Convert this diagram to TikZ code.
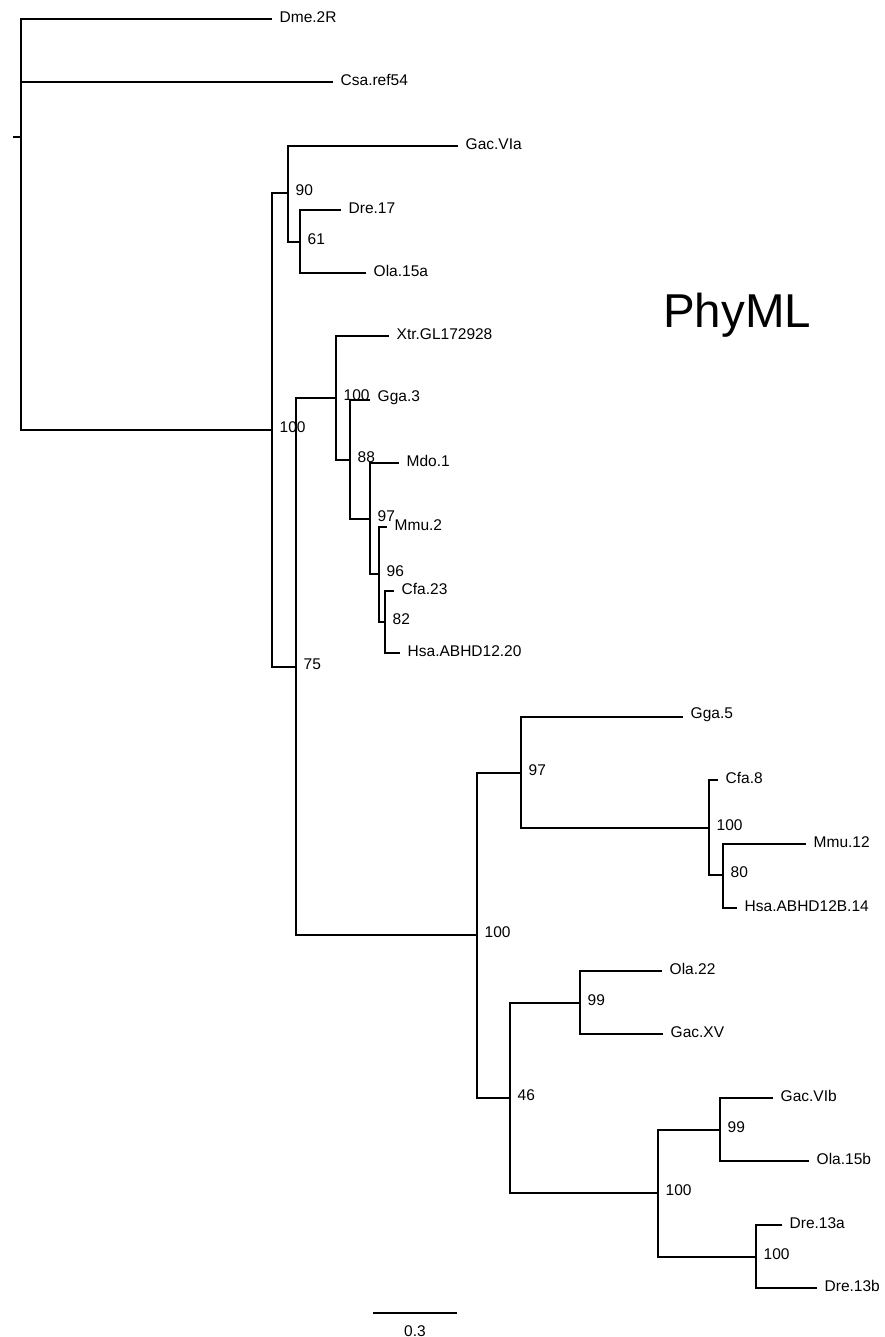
\documentclass[tikz,border=0pt]{standalone}
\usepackage{fontspec}
\setmainfont{Liberation Sans}
\begin{document}
\begin{tikzpicture}[x=1pt,y=-1pt,
  edge/.style={line width=1.3pt},
  leaf/.style={anchor=west,inner sep=0pt,xshift=7.5pt,yshift=2pt,font=\fontsize{15.5}{18}\selectfont},
  supp/.style={anchor=west,inner sep=0pt,xshift=7.5pt,yshift=2.5pt,font=\fontsize{15.5}{18}\selectfont}]
\useasboundingbox (0,0) rectangle (885,1337);
% internal nodes
\coordinate (root) at (21,137);
\coordinate (tick) at (13,137);
\coordinate (A) at (272,430);
\coordinate (B) at (288,193);
\coordinate (C) at (300,242);
\coordinate (D) at (296,667);
\coordinate (E) at (336,398);
\coordinate (F) at (350,460);
\coordinate (G) at (370,519);
\coordinate (H) at (379,574);
\coordinate (I) at (385,622);
\coordinate (J) at (477,935);
\coordinate (K) at (521,773);
\coordinate (L) at (709,828);
\coordinate (M) at (723,875);
\coordinate (N) at (510,1098);
\coordinate (O) at (580,1003);
\coordinate (P) at (658,1193);
\coordinate (Q) at (720,1130);
\coordinate (R) at (756,1257);
% leaves
\coordinate (Dme) at (272,19);
\coordinate (Csa) at (333,82);
\coordinate (GacVIa) at (458,146);
\coordinate (Dre17) at (341,210);
\coordinate (Ola15a) at (366,273);
\coordinate (Xtr) at (389,336);
\coordinate (Gga3) at (370,400);
\coordinate (Mdo1) at (399,463);
\coordinate (Mmu2) at (387,527);
\coordinate (Cfa23) at (394,591);
\coordinate (Hsa20) at (400,653);
\coordinate (Gga5) at (683,717);
\coordinate (Cfa8) at (718,780);
\coordinate (Mmu12) at (806,844);
\coordinate (Hsa14) at (737,908);
\coordinate (Ola22) at (662,971);
\coordinate (GacXV) at (663,1034);
\coordinate (GacVIb) at (773,1098);
\coordinate (Ola15b) at (809,1161);
\coordinate (Dre13a) at (782,1225);
\coordinate (Dre13b) at (817,1288);
% edges
\draw[edge] (tick) -- (root);
\draw[edge] (root) |- (Dme);
\draw[edge] (root) |- (Csa);
\draw[edge] (root) |- (A);
\draw[edge] (A) |- (B);
\draw[edge] (A) |- (D);
\draw[edge] (B) |- (GacVIa);
\draw[edge] (B) |- (C);
\draw[edge] (C) |- (Dre17);
\draw[edge] (C) |- (Ola15a);
\draw[edge] (D) |- (E);
\draw[edge] (D) |- (J);
\draw[edge] (E) |- (Xtr);
\draw[edge] (E) |- (F);
\draw[edge] (F) |- (Gga3);
\draw[edge] (F) |- (G);
\draw[edge] (G) |- (Mdo1);
\draw[edge] (G) |- (H);
\draw[edge] (H) |- (Mmu2);
\draw[edge] (H) |- (I);
\draw[edge] (I) |- (Cfa23);
\draw[edge] (I) |- (Hsa20);
\draw[edge] (J) |- (K);
\draw[edge] (J) |- (N);
\draw[edge] (K) |- (Gga5);
\draw[edge] (K) |- (L);
\draw[edge] (L) |- (Cfa8);
\draw[edge] (L) |- (M);
\draw[edge] (M) |- (Mmu12);
\draw[edge] (M) |- (Hsa14);
\draw[edge] (N) |- (O);
\draw[edge] (N) |- (P);
\draw[edge] (O) |- (Ola22);
\draw[edge] (O) |- (GacXV);
\draw[edge] (P) |- (Q);
\draw[edge] (P) |- (R);
\draw[edge] (Q) |- (GacVIb);
\draw[edge] (Q) |- (Ola15b);
\draw[edge] (R) |- (Dre13a);
\draw[edge] (R) |- (Dre13b);
% leaf labels
\node[leaf] (tDme) at (Dme) {Dme.2R};
\node[leaf] (tCsa) at (Csa) {Csa.ref54};
\node[leaf] (tGacVIa) at (GacVIa) {Gac.VIa};
\node[leaf] (tDre17) at (Dre17) {Dre.17};
\node[leaf] (tOla15a) at (Ola15a) {Ola.15a};
\node[leaf] (tXtr) at (Xtr) {Xtr.GL172928};
\node[leaf] (tGga3) at (Gga3) {Gga.3};
\node[leaf] (tMdo1) at (Mdo1) {Mdo.1};
\node[leaf] (tMmu2) at (Mmu2) {Mmu.2};
\node[leaf] (tCfa23) at (Cfa23) {Cfa.23};
\node[leaf] (tHsa20) at (Hsa20) {Hsa.ABHD12.20};
\node[leaf] (tGga5) at (Gga5) {Gga.5};
\node[leaf] (tCfa8) at (Cfa8) {Cfa.8};
\node[leaf] (tMmu12) at (Mmu12) {Mmu.12};
\node[leaf] (tHsa14) at (Hsa14) {Hsa.ABHD12B.14};
\node[leaf] (tOla22) at (Ola22) {Ola.22};
\node[leaf] (tGacXV) at (GacXV) {Gac.XV};
\node[leaf] (tGacVIb) at (GacVIb) {Gac.VIb};
\node[leaf] (tOla15b) at (Ola15b) {Ola.15b};
\node[leaf] (tDre13a) at (Dre13a) {Dre.13a};
\node[leaf] (tDre13b) at (Dre13b) {Dre.13b};
% support values
\node[supp] (sA) at (A) {100};
\node[supp] (sB) at (B) {90};
\node[supp] (sC) at (C) {61};
\node[supp] (sD) at (D) {75};
\node[supp] (sE) at (E) {100};
\node[supp] (sF) at (F) {88};
\node[supp] (sG) at (G) {97};
\node[supp] (sH) at (H) {96};
\node[supp] (sI) at (I) {82};
\node[supp] (sJ) at (J) {100};
\node[supp] (sK) at (K) {97};
\node[supp] (sL) at (L) {100};
\node[supp] (sM) at (M) {80};
\node[supp] (sN) at (N) {46};
\node[supp] (sO) at (O) {99};
\node[supp] (sP) at (P) {100};
\node[supp] (sQ) at (Q) {99};
\node[supp] (sR) at (R) {100};
% scale bar
\coordinate (sb1) at (373,1313);
\coordinate (sb2) at (457,1313);
\draw[edge] (sb1) -- (sb2);
\node[inner sep=0pt,font=\fontsize{15.5}{18}\selectfont] (sbl) at (415,1331) {0.3};
% title
\node[anchor=base west,inner sep=0pt,font=\fontsize{47.5}{52}\selectfont] (title) at (663,327) {PhyML};
\end{tikzpicture}
\end{document}
